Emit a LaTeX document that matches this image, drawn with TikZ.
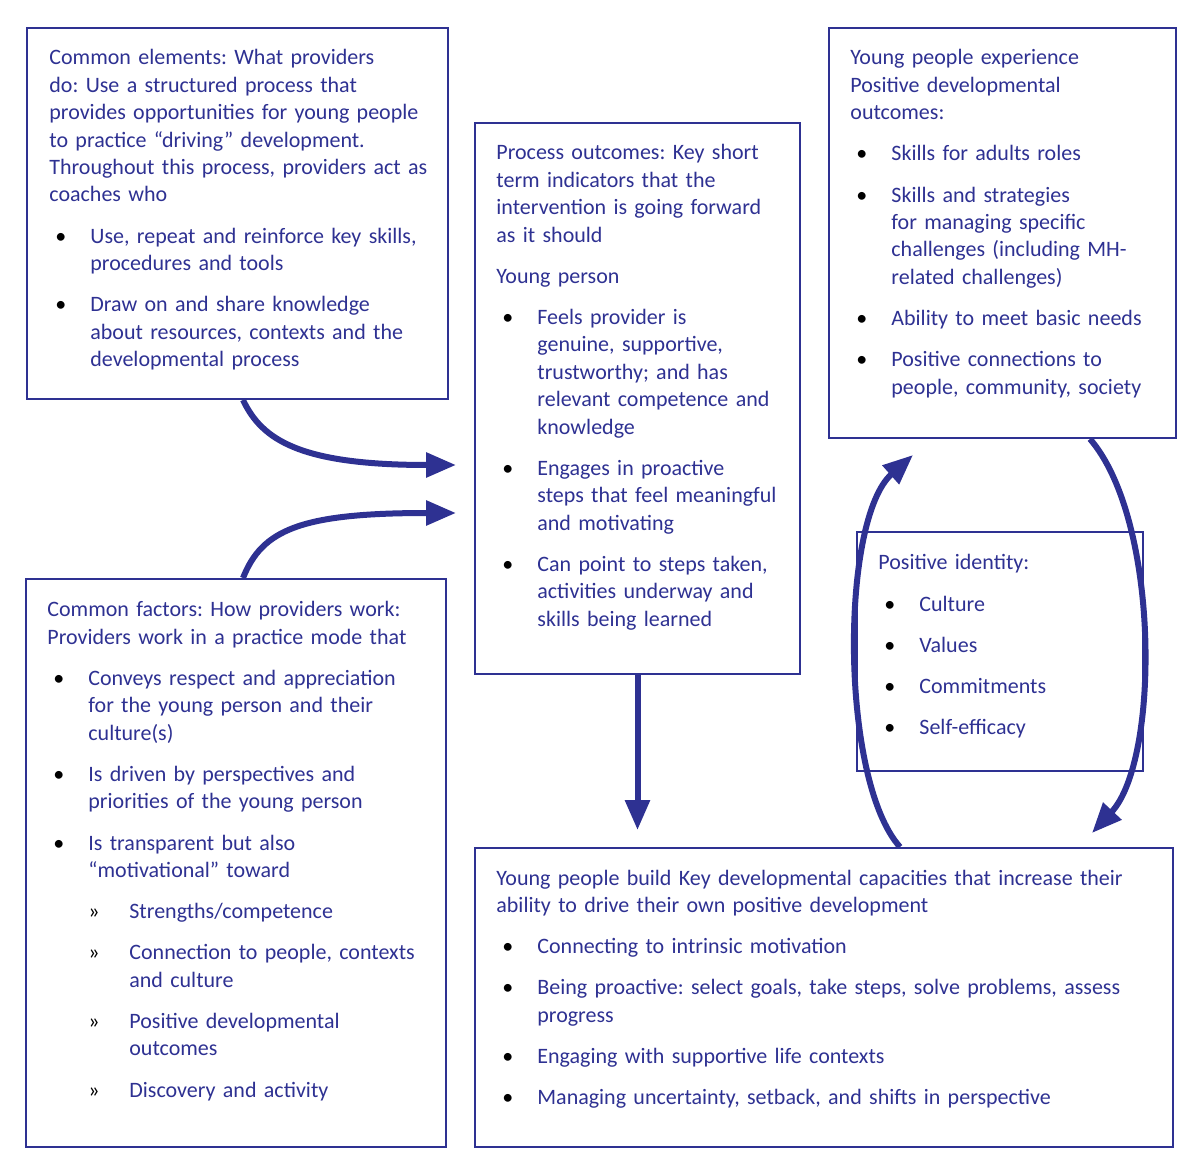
\documentclass[tikz,border=0pt]{standalone}
\usepackage{fontspec}
\setmainfont{Carlito}
\usetikzlibrary{arrows.meta}
\definecolor{navy}{RGB}{46,49,146}
\frenchspacing
\newlength{\gapsize}
\setlength{\gapsize}{6.9pt}
\newcommand{\bitem}{\par\vspace{\gapsize}\hangindent=20.5pt\hangafter=1\noindent\hspace*{3pt}\makebox[17.5pt][l]{\color{black}\textbullet}}
\newcommand{\sitem}{\par\vspace{\gapsize}\hangindent=41pt\hangafter=1\noindent\hspace*{20.5pt}\makebox[20.5pt][l]{\color{black}»}}
\begin{document}
\begin{tikzpicture}
  [x=0.5pt,y=-0.5pt,every node/.style={text=navy,font=\fontsize{11}{13.7}\selectfont}]
  \tikzstyle{panel} = [draw=navy,line width=1pt,anchor=north west,inner sep=0pt]
  \tikzstyle{words} = [anchor=base west,align=left,inner sep=0pt]
  \tikzstyle{flow} = [draw=navy,line width=3pt,-{Triangle[length=15pt,width=12pt]}]
  \useasboundingbox (0,0) rectangle (1200,1176);
  \foreach \name/\x/\y/\w/\h in {elements/26/27/210.5pt/185.5pt,process/474/122/162.5pt/275.5pt,outcomes/828/27/173.5pt/205pt,identity/856/531/143pt/119.5pt,factors/25/578/210pt/284pt,capacities/474/847/349pt/149.5pt}
   \node[panel,minimum width=\w,minimum height=\h] (\name) at (\x,\y) {};
  \node[words,text width=200pt] (elementsText) at (49,65) {Common elements: What providers\newline
    do: Use a structured process that\newline
    provides opportunities for young people\newline
    to practice “driving” development.\newline
    Throughout this process, providers act as\newline
    coaches who
    \bitem Use, repeat and reinforce key skills,\newline procedures and tools
    \bitem Draw on and share knowledge\newline about resources, contexts and the\newline developmental process\par};
  \node[words,text width=160pt] (processText) at (496,160) {Process outcomes: Key short\newline
    term indicators that the\newline
    intervention is going forward\newline
    as it should
    \par\vspace{\gapsize}Young person
    \bitem Feels provider is\newline genuine, supportive,\newline trustworthy; and has\newline relevant competence and\newline knowledge
    \bitem Engages in proactive\newline steps that feel meaningful\newline and motivating
    \bitem Can point to steps taken,\newline activities underway and\newline skills being learned\par};
  \node[words,text width=165pt] (outcomesText) at (850,65) {Young people experience\newline
    Positive developmental\newline
    outcomes:
    \bitem Skills for adults roles
    \bitem Skills and strategies\newline for managing specific\newline challenges (including MH-\newline related challenges)
    \bitem Ability to meet basic needs
    \bitem Positive connections to\newline people, community, society\par};
  \node[words,text width=130pt] (identityText) at (878,570) {Positive identity:
    \bitem Culture
    \bitem Values
    \bitem Commitments
    \bitem Self-efficacy\par};
  \node[words,text width=200pt] (factorsText) at (47,617) {Common factors: How providers work:\newline
    Providers work in a practice mode that
    \bitem Conveys respect and appreciation\newline for the young person and their\newline culture(s)
    \bitem Is driven by perspectives and\newline priorities of the young person
    \bitem Is transparent but also\newline “motivational” toward
    \sitem Strengths/competence
    \sitem Connection to people, contexts\newline and culture
    \sitem Positive developmental\newline outcomes
    \sitem Discovery and activity\par};
  \node[words,text width=340pt] (capacitiesText) at (496,885) {Young people build Key developmental capacities that increase their\newline
    ability to drive their own positive development
    \bitem Connecting to intrinsic motivation
    \bitem Being proactive: select goals, take steps, solve problems, assess\newline progress
    \bitem Engaging with supportive life contexts
    \bitem Managing uncertainty, setback, and shifts in perspective\par};
  \coordinate (inTop) at (456,465);
  \coordinate (inLow) at (456,513);
  \coordinate (upTip) at (913,455);
  \coordinate (downTip) at (1092,833);
  \draw[flow] ([xshift=108.5pt]elements.south west) .. controls (262,440) and (300,465) .. (inTop);
  \draw[flow] ([xshift=109pt]factors.north west) .. controls (262,530) and (300,513) .. (inLow);
  \draw[flow,shorten >=8.5pt] (process.south) -- (process.south |- capacities.north);
  \draw[flow] ([xshift=213pt]capacities.north west) .. controls (840,780) and (840,520) .. (upTip);
  \draw[flow] ([xshift=131pt]outcomes.south west) .. controls (1160,520) and (1160,760) .. (downTip);
\end{tikzpicture}
\end{document}
